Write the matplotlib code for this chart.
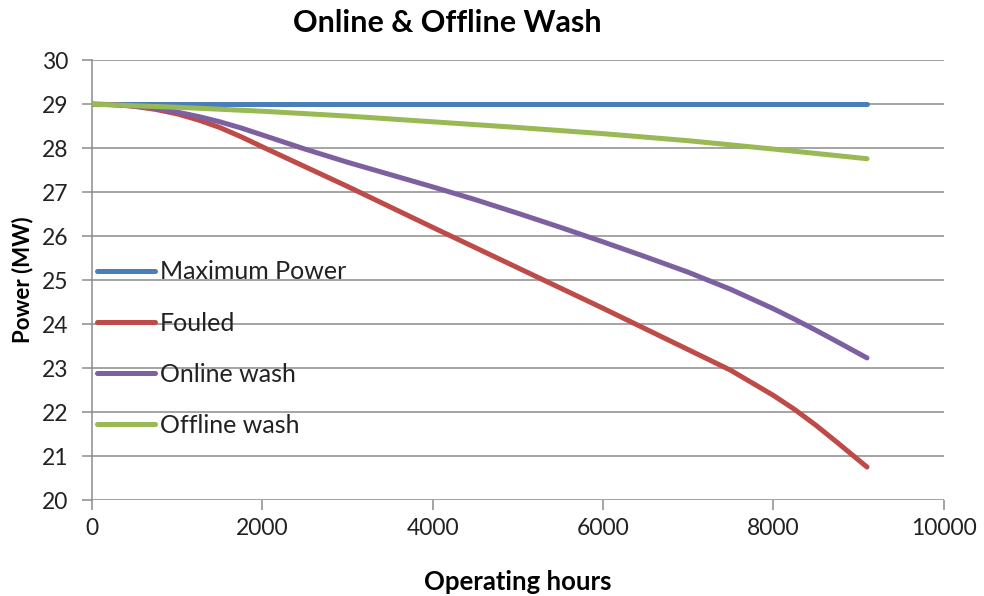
import numpy as np
import matplotlib
matplotlib.use('Agg')
import matplotlib.pyplot as plt

# values (operating hours vs power in MW)
hours_max = [0, 9100]
power_max = [29.0, 29.0]

hours_fouled = [0, 250, 500, 750, 1000, 1250, 1500, 1750, 2000, 2500, 3000, 4000, 5000, 6000,
                7000, 7500, 8000, 8250, 8500, 8750, 9100]
power_fouled = [29.0, 28.99, 28.95, 28.88, 28.78, 28.64, 28.47, 28.26, 28.03, 27.58, 27.13, 26.2, 25.28, 24.36,
                23.42, 22.95, 22.38, 22.06, 21.7, 21.31, 20.75]

hours_online = [0, 250, 500, 750, 1000, 1250, 1500, 1750, 2000, 2500, 3000, 3500, 4000, 4500, 5000,
                5500, 6000, 6500, 7000, 7500, 8000, 8250, 8500, 8750, 9100]
power_online = [29.0, 28.99, 28.96, 28.9, 28.82, 28.72, 28.6, 28.46, 28.3, 27.98, 27.68, 27.4, 27.12, 26.83, 26.52,
                26.2, 25.87, 25.53, 25.18, 24.79, 24.35, 24.11, 23.86, 23.6, 23.23]

hours_offline = [0, 1000, 2000, 3000, 4000, 5000, 6000, 7000, 8000, 9100]
power_offline = [29.0, 28.93, 28.84, 28.73, 28.6, 28.47, 28.33, 28.17, 27.98, 27.76]

xticks = [0, 2000, 4000, 6000, 8000, 10000]
yticks = [20, 21, 22, 23, 24, 25, 26, 27, 28, 29, 30]

plt.rcParams['font.family'] = ['Lato', 'DejaVu Sans']

f = plt.figure(figsize=(9.84, 5.96), dpi=100)
ax = f.add_axes([0.0935, 0.161, 0.8655, 0.738])

grid_c = '#8c8c8c'
for y in yticks:
    ax.axhline(y, color=grid_c, lw=1.1, zorder=1)

ax.plot(hours_max, power_max, color='#4A7EBB', lw=3.6, label='Maximum Power', zorder=3, solid_capstyle='round')
ax.plot(hours_fouled, power_fouled, color='#BE4B48', lw=3.6, label='Fouled', zorder=3, solid_capstyle='round')
ax.plot(hours_online, power_online, color='#7D60A0', lw=3.6, label='Online wash', zorder=3, solid_capstyle='round')
ax.plot(hours_offline, power_offline, color='#98B954', lw=3.6, label='Offline wash', zorder=3, solid_capstyle='round')

ax.set_xlim(0, 10000)
ax.set_ylim(20, 30)
ax.set_xticks(xticks)
ax.set_yticks(yticks)
ax.tick_params(axis='both', labelsize=16.5, length=7, width=1.1, color=grid_c, colors='#222222')
ax.tick_params(axis='y', pad=10)
ax.tick_params(axis='x', pad=6)

for s in ['top', 'right', 'bottom']:
    ax.spines[s].set_visible(False)
ax.spines['left'].set_color(grid_c)
ax.spines['left'].set_linewidth(1.1)

ax.set_xlabel('Operating hours', fontsize=18.5, fontweight='bold', labelpad=22)
ax.set_ylabel('Power (MW)', fontsize=16, fontweight='bold', labelpad=6)

f.text(0.455, 0.961, 'Online & Offline Wash', fontsize=22, fontweight='bold', ha='center', va='center')

leg = ax.legend(loc='center left', bbox_to_anchor=(0.006, 0.344), frameon=False, fontsize=18,
                handlelength=2.3, handletextpad=0.2, labelspacing=1.13, borderpad=0, borderaxespad=0)
for t in leg.get_texts():
    t.set_color('#222222')

plt.savefig('out.png', dpi=100)
